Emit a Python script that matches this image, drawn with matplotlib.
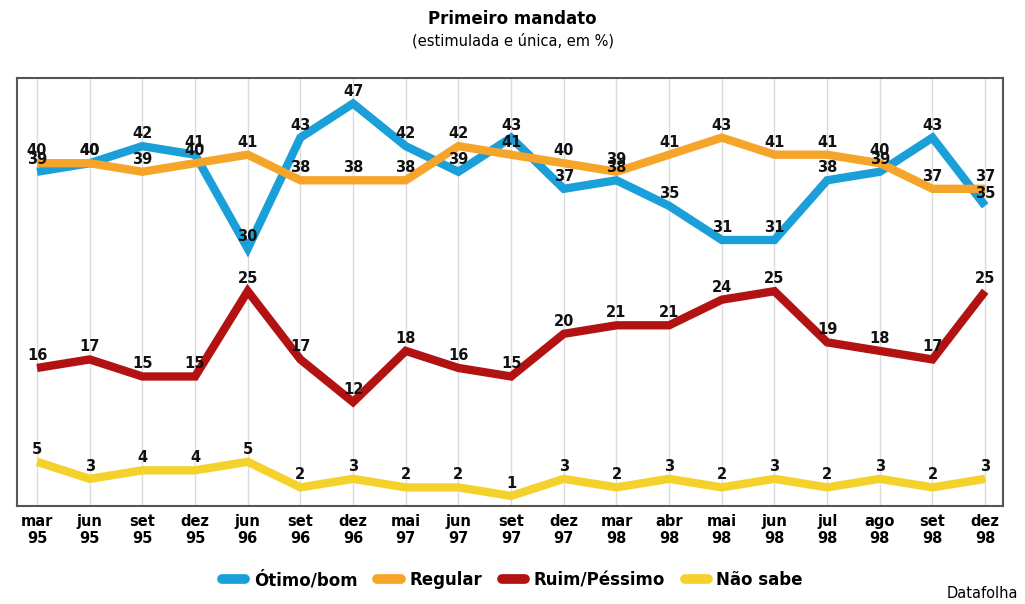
import matplotlib.pyplot as plt
import numpy as np

# Pesquisa Datafolha - avaliação do primeiro mandato
meses = ["mar\n95", "jun\n95", "set\n95", "dez\n95", "jun\n96", "set\n96", "dez\n96",
         "mai\n97", "jun\n97", "set\n97", "dez\n97", "mar\n98", "abr\n98", "mai\n98",
         "jun\n98", "jul\n98", "ago\n98", "set\n98", "dez\n98"]

otimo_bom = [39, 40, 42, 41, 30, 43, 47, 42, 39, 43, 37, 38, 35, 31, 31, 38, 39, 43, 35]
regular = [40, 40, 39, 40, 41, 38, 38, 38, 42, 41, 40, 39, 41, 43, 41, 41, 40, 37, 37]
ruim_pessimo = [16, 17, 15, 15, 25, 17, 12, 18, 16, 15, 20, 21, 21, 24, 25, 19, 18, 17, 25]
nao_sabe = [5, 3, 4, 4, 5, 2, 3, 2, 2, 1, 3, 2, 3, 2, 3, 2, 3, 2, 3]

series = [
    ("Ótimo/bom", otimo_bom, "#1a9fd9"),
    ("Regular", regular, "#f4a52a"),
    ("Ruim/Péssimo", ruim_pessimo, "#b31212"),
    ("Não sabe", nao_sabe, "#f5d12c"),
]

fig = plt.figure(figsize=(10.25, 6.04), dpi=100)
ax = fig.add_axes([0.0166, 0.162, 0.962, 0.709])

x = np.arange(len(meses))
for xi in x:
    ax.axvline(xi, color="#dcdcdc", lw=1, zorder=0)

for nome, vals, cor in series:
    ax.plot(x, vals, color=cor, lw=6, label=nome, solid_joinstyle="miter",
            solid_capstyle="butt", zorder=2)

# rótulos de valores
for nome, vals, cor in series:
    for xi, v in zip(x, vals):
        ax.annotate(str(v), (xi, v), xytext=(0, 9), textcoords="offset points",
                    ha="center", va="center", fontsize=10.5, fontweight="bold",
                    color="#111111", zorder=5)

ax.set_xlim(-0.38, 18.34)
ax.set_ylim(-0.2, 50)
ax.set_yticks([])
ax.set_xticks(x)
ax.set_xticklabels(meses, fontsize=10.5, fontweight="bold", linespacing=1.1)
ax.tick_params(axis="x", length=0, pad=6)
for s in ax.spines.values():
    s.set_color("#555555")
    s.set_linewidth(1.5)

fig.text(0.5, 0.968, "Primeiro mandato", ha="center", va="center",
         fontsize=12, fontweight="bold")
fig.text(0.5, 0.932, "(estimulada e única, em %)", ha="center", va="center",
         fontsize=10.5)

leg = fig.legend(loc="center", bbox_to_anchor=(0.5, 0.04), ncol=4, frameon=False,
                 fontsize=12, handlelength=1.4, handletextpad=0.5, columnspacing=1.2)
for t in leg.get_texts():
    t.set_fontweight("bold")
for h in leg.get_lines():
    h.set_solid_capstyle("round")
    h.set_linewidth(7)

fig.text(0.993, 0.018, "Datafolha", ha="right", va="center", fontsize=10.5)

plt.savefig("out.png", dpi=100)
